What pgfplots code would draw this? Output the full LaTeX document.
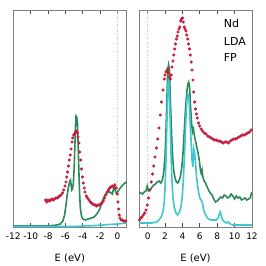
\documentclass[border=0pt]{standalone}
\usepackage{pgfplots}
\pgfplotsset{compat=1.18}
\usepackage{fontspec}
\setmainfont{DejaVu Sans}
\definecolor{dotred}{HTML}{C41E3A}
\definecolor{dosgreen}{HTML}{2B8A5A}
\definecolor{fcyan}{HTML}{3EC6D2}
\definecolor{framegray}{HTML}{808080}
\pgfplotsset{
  panel/.style={
    scale only axis, width=113pt, height=217pt,
    ymin=0, ymax=217, ytick=\empty,
    axis line style={framegray, line width=0.9pt},
    tick style={black!70, line width=0.7pt},
    major tick length=4pt,
    tick align=inside,
    xtick pos=both,
    ticklabel style={font=\fontsize{9}{10}\selectfont},
    xlabel={E (eV)},
    xlabel style={font=\fontsize{10}{12}\selectfont, at={(axis description cs:0.5,-0.143)}, anchor=center},
    xticklabel style={yshift=-2.5pt},
    clip=true,
  },
  reddots/.style={only marks, mark=*, mark size=1.35pt, dotred, mark options={draw=none, fill=dotred}},
  greenline/.style={no marks, dosgreen, line width=1.6pt},
  cyanline/.style={no marks, fcyan, line width=1.6pt},
}
\begin{document}
\begin{tikzpicture}
\path[use as bounding box] (0,0) rectangle (266pt,266pt);
\begin{axis}[panel, at={(13.3pt,39pt)}, anchor=south west,
  xmin=-12, xmax=1,
  xtick={-12,-10,-8,-6,-4,-2,0},
  xticklabels={-12,-10,-8,-6,-4,-2,0}]
\addplot[gray!45, dotted, line width=0.6pt] coordinates {(0,0) (0,217)};
\addplot[reddots] coordinates {
(-8.30,27) (-8.15,25) (-8.00,27) (-7.85,26) (-7.70,27) (-7.55,28) (-7.40,27) (-7.25,28)
(-7.10,29) (-6.95,29) (-6.80,30) (-6.65,31) (-6.50,32) (-6.35,34) (-6.20,37) (-6.05,41)
(-5.95,45) (-5.85,50) (-5.75,55) (-5.65,61) (-5.55,67) (-5.45,72) (-5.35,78) (-5.25,85)
(-5.15,89) (-5.05,92) (-4.95,93) (-4.85,95) (-4.75,96) (-4.65,94) (-4.55,90) (-4.45,84)
(-4.35,75) (-4.25,67) (-4.15,58) (-4.05,50) (-3.95,44) (-3.85,39) (-3.75,35) (-3.60,31)
(-3.45,29) (-3.30,27) (-3.15,25) (-3.00,24) (-2.85,23) (-2.70,22) (-2.55,22) (-2.40,21)
(-2.25,22) (-2.10,22) (-1.95,23) (-1.80,24) (-1.65,26) (-1.50,29) (-1.35,32) (-1.20,35)
(-1.05,37) (-0.90,39) (-0.75,40) (-0.60,41) (-0.45,40) (-0.30,42) (-0.15,39) (-0.05,33)
(0.05,25) (0.12,18) (0.20,12) (0.28,9) (0.40,7) (0.55,7) (0.70,6) (0.85,6) (0.95,6)
};
\addplot[greenline] coordinates {
(-12,1) (-10,1) (-8,1) (-7.5,1.5) (-7,2) (-6.6,3) (-6.3,6) (-6.1,12) (-5.95,21) (-5.8,32)
(-5.65,40) (-5.5,46) (-5.42,47) (-5.35,42) (-5.28,37) (-5.2,38) (-5.1,43) (-5.0,58)
(-4.92,80) (-4.85,100) (-4.78,111) (-4.7,110) (-4.62,104) (-4.55,85) (-4.47,60) (-4.38,35)
(-4.28,18) (-4.15,11) (-4.0,8) (-3.7,7) (-3.4,8) (-3.0,9) (-2.7,10) (-2.4,13) (-2.1,17)
(-1.9,22) (-1.7,27) (-1.5,31) (-1.3,34) (-1.1,35) (-0.9,35) (-0.75,34) (-0.6,33) (-0.5,37)
(-0.38,41) (-0.25,36) (-0.15,34) (0.0,35) (0.15,37) (0.3,39) (0.5,41) (0.7,43) (1.0,45)
};
\addplot[cyanline] coordinates {
(-12,0.5) (-5,0.5) (-4,1) (-3,1.3) (-2,1.8) (-1,2.5) (0,3) (1,4)
};
\end{axis}
\begin{axis}[panel, at={(139pt,39pt)}, anchor=south west,
  xmin=-1, xmax=12,
  xtick={0,2,4,6,8,10,12},
  xticklabels={0,2,4,6,8,10,12}]
\addplot[gray!45, dotted, line width=0.6pt] coordinates {(0,0) (0,217)};
\addplot[reddots] coordinates {
(-0.95,7) (-0.80,9) (-0.65,10) (-0.50,12) (-0.35,14) (-0.20,17) (-0.05,22) (0.10,29)
(0.25,37) (0.40,45) (0.55,53) (0.70,61) (0.85,70) (1.00,79) (1.15,88) (1.30,99)
(1.45,112) (1.60,125) (1.75,137) (1.90,148) (2.00,152) (2.10,155) (2.20,156) (2.30,158)
(2.40,154) (2.50,150) (2.60,148) (2.70,152) (2.80,160) (2.90,166) (3.00,172) (3.10,178)
(3.20,183) (3.30,188) (3.40,191) (3.50,195) (3.60,198) (3.70,200) (3.80,206) (3.90,208)
(4.00,209) (4.10,205) (4.20,200) (4.30,198) (4.40,196) (4.50,192) (4.60,188) (4.70,183)
(4.80,178) (4.90,172) (5.00,165) (5.10,157) (5.20,147) (5.30,135) (5.40,125) (5.50,118)
(5.60,113) (5.70,109) (5.85,104) (6.00,101) (6.15,98) (6.30,96) (6.50,94) (6.70,93)
(6.90,91) (7.10,90) (7.30,89) (7.50,88) (7.70,87) (7.90,87) (8.10,86) (8.30,86)
(8.50,85) (8.70,84) (8.90,85) (9.10,85) (9.30,84) (9.50,86) (9.70,87) (9.90,88)
(10.10,88) (10.30,89) (10.50,90) (10.70,91) (10.90,92) (11.10,92) (11.30,93) (11.50,94)
(11.70,95) (11.90,97)
};
\addplot[greenline] coordinates {
(-1.0,35) (-0.8,34) (-0.6,33) (-0.4,35) (-0.2,36) (-0.05,41) (0.1,36) (0.3,37) (0.5,40)
(0.7,42) (0.9,43) (1.1,45) (1.3,46) (1.5,44) (1.7,47) (1.85,55) (2.0,72) (2.1,95)
(2.2,125) (2.3,155) (2.4,162) (2.5,158) (2.6,130) (2.7,105) (2.8,82) (2.9,66) (3.0,56)
(3.15,49) (3.3,45) (3.45,44) (3.6,46) (3.75,50) (3.9,58) (4.05,72) (4.2,95) (4.35,118)
(4.5,135) (4.62,143) (4.72,145) (4.82,140) (4.92,122) (5.05,104) (5.15,95) (5.25,98)
(5.35,93) (5.45,88) (5.55,84) (5.65,80) (5.8,74) (5.95,66) (6.05,58) (6.15,54) (6.25,57)
(6.35,50) (6.5,46) (6.65,44) (6.8,41) (7.0,37) (7.2,34) (7.4,32) (7.6,28) (7.8,25)
(8.0,26) (8.2,28) (8.4,30) (8.6,29) (8.8,32) (9.0,31) (9.2,29) (9.4,30) (9.6,33) (9.8,31)
(10.0,28) (10.2,31) (10.4,29) (10.6,30) (10.8,27) (11.0,28) (11.2,29) (11.4,27) (11.6,28)
(11.8,29) (11.95,34) (12.0,35)
};
\addplot[cyanline] coordinates {
(-1.0,4) (-0.5,4) (0,4) (0.5,4) (1.0,5) (1.3,7) (1.55,10) (1.75,15) (1.9,24) (2.0,40)
(2.1,65) (2.2,100) (2.3,135) (2.4,150) (2.5,135) (2.6,100) (2.7,68) (2.8,45) (2.9,30)
(3.05,20) (3.25,14) (3.45,12) (3.65,15) (3.85,21) (4.0,33) (4.12,50) (4.25,75) (4.38,105)
(4.5,125) (4.6,133) (4.7,132) (4.8,122) (4.9,100) (5.0,85) (5.1,67) (5.2,60) (5.3,78)
(5.4,74) (5.5,65) (5.6,52) (5.7,44) (5.85,35) (6.0,29) (6.15,27) (6.3,24) (6.45,17)
(6.6,13) (6.8,10) (7.0,8) (7.3,7) (7.6,7) (7.9,7) (8.1,9) (8.25,13) (8.35,15) (8.5,10)
(8.7,6) (8.9,5) (9.1,4) (9.3,5) (9.5,3) (9.8,2) (10.5,2) (11,2) (12,2)
};
\node[anchor=west, font=\fontsize{11}{13}\selectfont] at (rel axis cs:0.72,0.94) {Nd};
\node[anchor=west, font=\fontsize{11}{13}\selectfont] at (rel axis cs:0.72,0.855) {LDA};
\node[anchor=west, font=\fontsize{11}{13}\selectfont] at (rel axis cs:0.72,0.78) {FP};
\end{axis}
\end{tikzpicture}
\end{document}
